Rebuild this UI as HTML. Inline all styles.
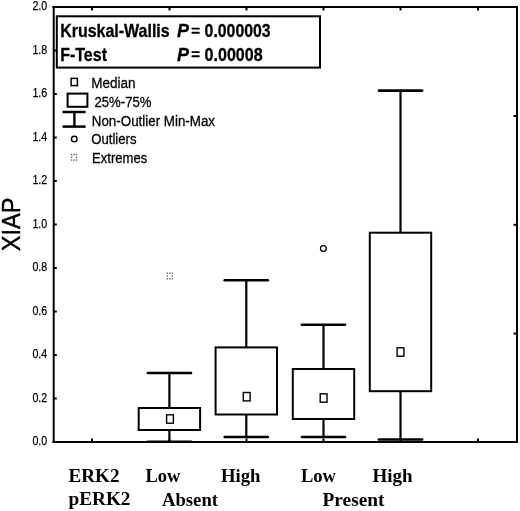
<!DOCTYPE html>
<html><head><meta charset="utf-8"><style>
html,body{margin:0;padding:0;background:#fff;overflow:hidden;}
svg{display:block;filter:grayscale(1);}
</style></head><body>
<svg width="520" height="511" viewBox="0 0 520 511">
<rect width="520" height="511" fill="#fff"/>
<rect x="52.7" y="6" width="2" height="437" fill="#000"/>
<rect x="52.4" y="6" width="465.6" height="2" fill="#000"/>
<rect x="516" y="6" width="2" height="437" fill="#000"/>
<rect x="52.4" y="441" width="465.6" height="2" fill="#000"/>
<line x1="54" y1="398.50" x2="56.8" y2="398.50" stroke="#000" stroke-width="2"/>
<line x1="54" y1="355.00" x2="56.8" y2="355.00" stroke="#000" stroke-width="2"/>
<line x1="54" y1="311.50" x2="56.8" y2="311.50" stroke="#000" stroke-width="2"/>
<line x1="54" y1="268.00" x2="56.8" y2="268.00" stroke="#000" stroke-width="2"/>
<line x1="54" y1="224.50" x2="56.8" y2="224.50" stroke="#000" stroke-width="2"/>
<line x1="54" y1="181.00" x2="56.8" y2="181.00" stroke="#000" stroke-width="2"/>
<line x1="54" y1="137.50" x2="56.8" y2="137.50" stroke="#000" stroke-width="2"/>
<line x1="54" y1="94.00" x2="56.8" y2="94.00" stroke="#000" stroke-width="2"/>
<line x1="54" y1="50.50" x2="56.8" y2="50.50" stroke="#000" stroke-width="2"/>
<line x1="517" y1="333.55" x2="513.5" y2="333.55" stroke="#000" stroke-width="2"/>
<line x1="517" y1="224.80" x2="513.5" y2="224.80" stroke="#000" stroke-width="2"/>
<line x1="517" y1="116.05" x2="513.5" y2="116.05" stroke="#000" stroke-width="2"/>
<line x1="92" y1="7" x2="92" y2="10.5" stroke="#000" stroke-width="2"/>
<line x1="92" y1="442" x2="92" y2="438.5" stroke="#000" stroke-width="2"/>
<line x1="169.5" y1="7" x2="169.5" y2="10.5" stroke="#000" stroke-width="2"/>
<line x1="169.5" y1="442" x2="169.5" y2="438.5" stroke="#000" stroke-width="2"/>
<line x1="246.5" y1="7" x2="246.5" y2="10.5" stroke="#000" stroke-width="2"/>
<line x1="246.5" y1="442" x2="246.5" y2="438.5" stroke="#000" stroke-width="2"/>
<line x1="323.5" y1="7" x2="323.5" y2="10.5" stroke="#000" stroke-width="2"/>
<line x1="323.5" y1="442" x2="323.5" y2="438.5" stroke="#000" stroke-width="2"/>
<line x1="400.5" y1="7" x2="400.5" y2="10.5" stroke="#000" stroke-width="2"/>
<line x1="400.5" y1="442" x2="400.5" y2="438.5" stroke="#000" stroke-width="2"/>
<line x1="478" y1="7" x2="478" y2="10.5" stroke="#000" stroke-width="2"/>
<line x1="478" y1="442" x2="478" y2="438.5" stroke="#000" stroke-width="2"/>
<text x="47.2" y="445.4" text-anchor="end" font-family='"Liberation Sans", sans-serif' font-size="13.6" textLength="14.8" lengthAdjust="spacingAndGlyphs" stroke="#000" stroke-width="0.25">0.0</text>
<text x="47.2" y="401.9" text-anchor="end" font-family='"Liberation Sans", sans-serif' font-size="13.6" textLength="14.8" lengthAdjust="spacingAndGlyphs" stroke="#000" stroke-width="0.25">0.2</text>
<text x="47.2" y="358.4" text-anchor="end" font-family='"Liberation Sans", sans-serif' font-size="13.6" textLength="14.8" lengthAdjust="spacingAndGlyphs" stroke="#000" stroke-width="0.25">0.4</text>
<text x="47.2" y="314.9" text-anchor="end" font-family='"Liberation Sans", sans-serif' font-size="13.6" textLength="14.8" lengthAdjust="spacingAndGlyphs" stroke="#000" stroke-width="0.25">0.6</text>
<text x="47.2" y="271.4" text-anchor="end" font-family='"Liberation Sans", sans-serif' font-size="13.6" textLength="14.8" lengthAdjust="spacingAndGlyphs" stroke="#000" stroke-width="0.25">0.8</text>
<text x="47.2" y="227.9" text-anchor="end" font-family='"Liberation Sans", sans-serif' font-size="13.6" textLength="14.8" lengthAdjust="spacingAndGlyphs" stroke="#000" stroke-width="0.25">1.0</text>
<text x="47.2" y="184.4" text-anchor="end" font-family='"Liberation Sans", sans-serif' font-size="13.6" textLength="14.8" lengthAdjust="spacingAndGlyphs" stroke="#000" stroke-width="0.25">1.2</text>
<text x="47.2" y="140.9" text-anchor="end" font-family='"Liberation Sans", sans-serif' font-size="13.6" textLength="14.8" lengthAdjust="spacingAndGlyphs" stroke="#000" stroke-width="0.25">1.4</text>
<text x="47.2" y="97.4" text-anchor="end" font-family='"Liberation Sans", sans-serif' font-size="13.6" textLength="14.8" lengthAdjust="spacingAndGlyphs" stroke="#000" stroke-width="0.25">1.6</text>
<text x="47.2" y="53.9" text-anchor="end" font-family='"Liberation Sans", sans-serif' font-size="13.6" textLength="14.8" lengthAdjust="spacingAndGlyphs" stroke="#000" stroke-width="0.25">1.8</text>
<text x="47.2" y="10.4" text-anchor="end" font-family='"Liberation Sans", sans-serif' font-size="13.6" textLength="14.8" lengthAdjust="spacingAndGlyphs" stroke="#000" stroke-width="0.25">2.0</text>
<line x1="169.4" y1="373" x2="169.4" y2="408" stroke="#000" stroke-width="2.2"/>
<line x1="169.4" y1="430" x2="169.4" y2="441.8" stroke="#000" stroke-width="2.2"/>
<line x1="147.8" y1="373" x2="191.0" y2="373" stroke="#000" stroke-width="2.6" stroke-linecap="round"/>
<line x1="147.8" y1="441.8" x2="191.0" y2="441.8" stroke="#000" stroke-width="2.6" stroke-linecap="round"/>
<rect x="138.7" y="408" width="61.4" height="22.0" fill="#fff" stroke="#000" stroke-width="2"/>
<rect x="166.6" y="414.8" width="6.8" height="8.4" fill="none" stroke="#000" stroke-width="1.4"/>
<line x1="246.3" y1="280.3" x2="246.3" y2="347.4" stroke="#000" stroke-width="2.2"/>
<line x1="246.3" y1="414.5" x2="246.3" y2="437" stroke="#000" stroke-width="2.2"/>
<line x1="224.7" y1="280.3" x2="267.9" y2="280.3" stroke="#000" stroke-width="2.6" stroke-linecap="round"/>
<line x1="224.7" y1="437" x2="267.9" y2="437" stroke="#000" stroke-width="2.6" stroke-linecap="round"/>
<rect x="215.6" y="347.4" width="61.4" height="67.1" fill="#fff" stroke="#000" stroke-width="2"/>
<rect x="243.3" y="392.5" width="6.8" height="8.4" fill="none" stroke="#000" stroke-width="1.4"/>
<line x1="323.5" y1="324.8" x2="323.5" y2="369" stroke="#000" stroke-width="2.2"/>
<line x1="323.5" y1="419" x2="323.5" y2="437" stroke="#000" stroke-width="2.2"/>
<line x1="301.9" y1="324.8" x2="345.1" y2="324.8" stroke="#000" stroke-width="2.6" stroke-linecap="round"/>
<line x1="301.9" y1="437" x2="345.1" y2="437" stroke="#000" stroke-width="2.6" stroke-linecap="round"/>
<rect x="292.8" y="369" width="61.4" height="50.0" fill="#fff" stroke="#000" stroke-width="2"/>
<rect x="320.2" y="393.8" width="6.8" height="8.4" fill="none" stroke="#000" stroke-width="1.4"/>
<line x1="400.5" y1="90.6" x2="400.5" y2="232.7" stroke="#000" stroke-width="2.2"/>
<line x1="400.5" y1="391.2" x2="400.5" y2="439.5" stroke="#000" stroke-width="2.2"/>
<line x1="378.9" y1="90.6" x2="422.1" y2="90.6" stroke="#000" stroke-width="2.6" stroke-linecap="round"/>
<line x1="378.9" y1="439.5" x2="422.1" y2="439.5" stroke="#000" stroke-width="2.6" stroke-linecap="round"/>
<rect x="369.8" y="232.7" width="61.4" height="158.5" fill="#fff" stroke="#000" stroke-width="2"/>
<rect x="397.1" y="347.8" width="6.8" height="8.4" fill="none" stroke="#000" stroke-width="1.4"/>
<circle cx="323.4" cy="248.6" r="2.9" fill="none" stroke="#000" stroke-width="1.3"/>
<rect x="166.6" y="272.5" width="1.4" height="1.4" fill="#666"/><rect x="166.6" y="275.3" width="1.4" height="1.4" fill="#666"/><rect x="166.6" y="278.1" width="1.4" height="1.4" fill="#666"/><rect x="169.1" y="272.5" width="1.4" height="1.4" fill="#666"/><rect x="169.1" y="278.1" width="1.4" height="1.4" fill="#666"/><rect x="171.6" y="272.5" width="1.4" height="1.4" fill="#666"/><rect x="171.6" y="275.3" width="1.4" height="1.4" fill="#666"/><rect x="171.6" y="278.1" width="1.4" height="1.4" fill="#666"/>
<rect x="56.8" y="16.3" width="263.2" height="51.3" fill="#fff" stroke="#000" stroke-width="2"/>
<text x="60.2" y="37.1" font-family='"Liberation Sans", sans-serif' font-weight="bold" font-size="19" stroke="#000" stroke-width="0.3" textLength="109.5" lengthAdjust="spacingAndGlyphs">Kruskal-Wallis</text>
<text x="60.2" y="60.6" font-family='"Liberation Sans", sans-serif' font-weight="bold" font-size="19" stroke="#000" stroke-width="0.3" textLength="46.8" lengthAdjust="spacingAndGlyphs">F-Test</text>
<text x="177" y="37.1" font-family='"Liberation Sans", sans-serif' font-weight="bold" font-style="italic" font-size="19" stroke="#000" stroke-width="0.3" textLength="12" lengthAdjust="spacingAndGlyphs">P</text>
<rect x="191.5" y="27.7" width="8.2" height="1.9" rx="0.6" fill="#000"/>
<rect x="191.5" y="31.8" width="8.2" height="1.9" rx="0.6" fill="#000"/>
<text x="177" y="60.6" font-family='"Liberation Sans", sans-serif' font-weight="bold" font-style="italic" font-size="19" stroke="#000" stroke-width="0.3" textLength="12" lengthAdjust="spacingAndGlyphs">P</text>
<rect x="191.5" y="51.2" width="8.2" height="1.9" rx="0.6" fill="#000"/>
<rect x="191.5" y="55.3" width="8.2" height="1.9" rx="0.6" fill="#000"/>
<text x="204.6" y="37.1" font-family='"Liberation Sans", sans-serif' font-weight="bold" font-size="19" stroke="#000" stroke-width="0.3" textLength="66" lengthAdjust="spacingAndGlyphs">0.000003</text>
<text x="204.6" y="60.6" font-family='"Liberation Sans", sans-serif' font-weight="bold" font-size="19" stroke="#000" stroke-width="0.3" textLength="58" lengthAdjust="spacingAndGlyphs">0.00008</text>
<rect x="71.1" y="78.4" width="6.3" height="7.2" fill="none" stroke="#000" stroke-width="1.5"/>
<rect x="67.6" y="93.6" width="19.8" height="13.2" fill="none" stroke="#000" stroke-width="2"/>
<line x1="62.6" y1="112" x2="85.6" y2="112" stroke="#000" stroke-width="2.5"/>
<line x1="62.6" y1="126.6" x2="85.6" y2="126.6" stroke="#000" stroke-width="2.5"/>
<line x1="74.4" y1="112" x2="74.4" y2="126.6" stroke="#000" stroke-width="2.4"/>
<circle cx="74.25" cy="139.1" r="2.8" fill="none" stroke="#000" stroke-width="1.4"/>
<rect x="70.8" y="153.8" width="1.4" height="1.4" fill="#666"/><rect x="70.8" y="156.6" width="1.4" height="1.4" fill="#666"/><rect x="70.8" y="159.4" width="1.4" height="1.4" fill="#666"/><rect x="73.3" y="153.8" width="1.4" height="1.4" fill="#666"/><rect x="73.3" y="159.4" width="1.4" height="1.4" fill="#666"/><rect x="75.8" y="153.8" width="1.4" height="1.4" fill="#666"/><rect x="75.8" y="156.6" width="1.4" height="1.4" fill="#666"/><rect x="75.8" y="159.4" width="1.4" height="1.4" fill="#666"/>
<text x="91.2" y="87.8" font-family='"Liberation Sans", sans-serif' font-size="15.5" textLength="44.3" lengthAdjust="spacingAndGlyphs" stroke="#000" stroke-width="0.3">Median</text>
<text x="94.5" y="106.6" font-family='"Liberation Sans", sans-serif' font-size="15.5" textLength="57" lengthAdjust="spacingAndGlyphs" stroke="#000" stroke-width="0.3">25%-75%</text>
<text x="91.8" y="125.6" font-family='"Liberation Sans", sans-serif' font-size="15.5" textLength="123.2" lengthAdjust="spacingAndGlyphs" stroke="#000" stroke-width="0.3">Non-Outlier Min-Max</text>
<text x="91.2" y="144.3" font-family='"Liberation Sans", sans-serif' font-size="15.5" textLength="45.3" lengthAdjust="spacingAndGlyphs" stroke="#000" stroke-width="0.3">Outliers</text>
<text x="92" y="163.1" font-family='"Liberation Sans", sans-serif' font-size="15.5" textLength="55.2" lengthAdjust="spacingAndGlyphs" stroke="#000" stroke-width="0.3">Extremes</text>
<text transform="translate(19.7,251.3) rotate(-90)" x="0" y="0" font-family='"Liberation Sans", sans-serif' font-size="25.5" textLength="53.8" lengthAdjust="spacingAndGlyphs" stroke="#000" stroke-width="0.4">XIAP</text>
<text x="68.5" y="482" font-family='"Liberation Serif", serif' font-weight="bold" font-size="19" textLength="51" lengthAdjust="spacingAndGlyphs">ERK2</text>
<text x="68.5" y="504.8" font-family='"Liberation Serif", serif' font-weight="bold" font-size="19" textLength="62" lengthAdjust="spacingAndGlyphs">pERK2</text>
<text x="145.5" y="482" font-family='"Liberation Serif", serif' font-weight="bold" font-size="19" textLength="35" lengthAdjust="spacingAndGlyphs">Low</text>
<text x="221" y="482" font-family='"Liberation Serif", serif' font-weight="bold" font-size="19" textLength="39.5" lengthAdjust="spacingAndGlyphs">High</text>
<text x="162" y="505.6" font-family='"Liberation Serif", serif' font-weight="bold" font-size="19" textLength="56" lengthAdjust="spacingAndGlyphs">Absent</text>
<text x="301" y="482" font-family='"Liberation Serif", serif' font-weight="bold" font-size="19" textLength="35" lengthAdjust="spacingAndGlyphs">Low</text>
<text x="372.5" y="482" font-family='"Liberation Serif", serif' font-weight="bold" font-size="19" textLength="40" lengthAdjust="spacingAndGlyphs">High</text>
<text x="322.5" y="505.6" font-family='"Liberation Serif", serif' font-weight="bold" font-size="19" textLength="62" lengthAdjust="spacingAndGlyphs">Present</text>
</svg>
</body></html>
